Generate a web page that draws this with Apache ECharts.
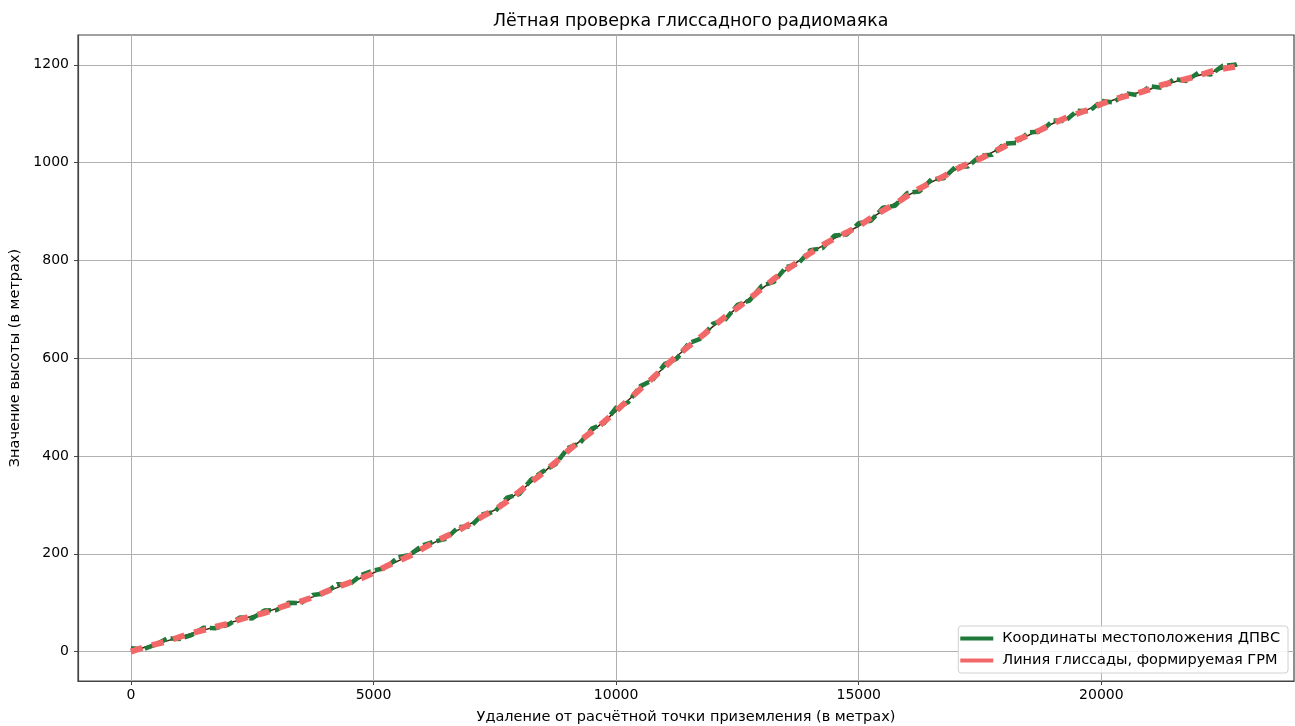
<!DOCTYPE html>
<html>
<head>
<meta charset="utf-8">
<script src="https://cdn.jsdelivr.net/npm/echarts@6/dist/echarts.min.js"></script>
<style>html,body{margin:0;padding:0;background:#fff}#c{width:1295px;height:726px}</style>
</head>
<body>
<div id="c"></div>
<script>
const distances = [0,250,500,750,1000,1250,1500,1750,2000,2250,2500,2750,3000,3250,3500,3750,4000,4250,4500,4750,5000,5250,5500,5750,6000,6250,6500,6750,7000,7250,7500,7750,8000,8250,8500,8750,9000,9250,9500,9750,10000,10250,10500,10750,11000,11250,11500,11750,12000,12250,12500,12750,13000,13250,13500,13750,14000,14250,14500,14750,15000,15250,15500,15750,16000,16250,16500,16750,17000,17250,17500,17750,18000,18250,18500,18750,19000,19250,19500,19750,20000,20250,20500,20750,21000,21250,21500,21750,22000,22250,22500,22750,22800];
const aircraftHeights = [7,5,14,27,26,34,49,48,55,70,68,84,85,100,99,116,119,138,137,157,166,171,193,198,217,225,231,255,256,281,286,315,322,352,369,383,416,426,456,467,499,510,543,555,588,599,631,640,671,679,709,718,748,756,786,793,821,825,851,853,876,881,908,912,938,941,966,968,992,992,1014,1016,1039,1040,1062,1063,1086,1085,1106,1105,1126,1123,1142,1138,1156,1153,1171,1167,1184,1180,1198,1200,1202];
const glidePathHeights = [0,8,15,21,30,38,44,51,57,66,73,79,88,96,103,111,122,132,141,150,161,174,185,196,210,224,236,248,262,277,290,307,327,347,366,387,410,431,450,470,492,515,537,559,582,605,625,644,665,685,703,722,742,762,780,797,815,831,845,857,870,887,902,916,932,947,960,972,986,998,1008,1020,1033,1046,1056,1067,1080,1091,1100,1109,1120,1129,1136,1142,1150,1159,1165,1171,1178,1186,1192,1196,1197];
const referenceHeights = [0,8,15,22,30,37,44,51,58,65,73,80,88,95,103,112,122,131,141,151,161,173,185,197,210,223,236,249,262,276,290,308,327,346,366,388,410,430,450,471,492,514,537,560,582,604,625,645,665,684,703,723,742,761,780,798,815,830,845,858,870,886,902,917,932,946,960,973,986,997,1008,1021,1033,1045,1056,1068,1080,1090,1100,1110,1120,1128,1136,1143,1150,1158,1165,1172,1178,1185,1192,1197,1198];
const xTicks = [0,5000,10000,15000,20000];
const yTicks = [0,200,400,600,800,1000,1200];
const titleText = 'Лётная проверка глиссадного радиомаяка';
const xName = 'Удаление от расчётной точки приземления (в метрах)';
const yName = 'Значение высоты (в метрах)';
const seriesNames = ['Координаты местоположения ДПВС', 'Линия глиссады, формируемая ГРМ'];

const pairs = (xs, ys) => xs.map((x, i) => [x, ys[i]]);
const font = 'DejaVu Sans';

const chart = echarts.init(document.getElementById('c'), null, {renderer: 'canvas'});
chart.setOption({
  animation: false,
  backgroundColor: '#ffffff',
  textStyle: {fontFamily: font},
  title: {
    text: titleText, left: 488, top: 8,
    textStyle: {fontFamily: font, fontSize: 17.4, fontWeight: 'normal', color: '#000'}
  },
  grid: {left: 78, top: 35, right: 1, bottom: 45, show: true, borderColor: '#444', borderWidth: 1.2, containLabel: false, outerBoundsMode: 'none'},
  legend: {
    orient: 'vertical', right: 7, bottom: 53,
    itemWidth: 33, itemHeight: 4, itemGap: 7,
    padding: [5, 8, 5, 2],
    borderColor: '#d0d0d0', borderWidth: 1, borderRadius: 3,
    backgroundColor: 'rgba(255,255,255,0.85)',
    textStyle: {fontFamily: font, fontSize: 14.5, color: '#000', padding: [0, 0, 0, 4]},
    data: [
      {name: seriesNames[0], icon: 'rect', itemStyle: {color: '#1f7a3a'}},
      {name: seriesNames[1], icon: 'rect', itemStyle: {color: '#f26868'}}
    ]
  },
  xAxis: {
    type: 'value', min: -1090, max: 23970,
    name: xName, nameLocation: 'middle', nameGap: 29,
    nameTextStyle: {fontFamily: font, fontSize: 14.5, color: '#000'},
    axisLine: {show: true, onZero: false, lineStyle: {color: '#444', width: 1.2}},
    axisTick: {show: true, length: 4, customValues: xTicks, lineStyle: {color: '#444'}},
    axisLabel: {customValues: xTicks, margin: 7, fontFamily: font, fontSize: 14, color: '#000', formatter: v => String(v)},
    splitLine: {show: true, lineStyle: {color: '#b0b0b0', width: 1}}
  },
  yAxis: {
    type: 'value', min: -60, max: 1261,
    name: yName, nameLocation: 'middle', nameGap: 55,
    nameTextStyle: {fontFamily: font, fontSize: 14.5, color: '#000'},
    axisLine: {show: true, onZero: false, lineStyle: {color: '#444', width: 1.2}},
    axisTick: {show: true, length: 4, customValues: yTicks, lineStyle: {color: '#444'}},
    axisLabel: {customValues: yTicks, margin: 9, fontFamily: font, fontSize: 14, color: '#000', formatter: v => String(v)},
    splitLine: {show: true, lineStyle: {color: '#b0b0b0', width: 1}}
  },
  series: [
    {
      name: 'reference', type: 'line', data: pairs(distances, referenceHeights),
      showSymbol: false, symbol: 'none', z: 1, silent: true,
      lineStyle: {color: '#4a1e08', width: 1.5}
    },
    {
      name: seriesNames[0], type: 'line', data: pairs(distances, aircraftHeights),
      showSymbol: false, symbol: 'none', z: 2,
      itemStyle: {color: '#1f7a3a'},
      lineStyle: {color: '#1f7a3a', width: 4.5, type: [10, 4], cap: 'butt'}
    },
    {
      name: seriesNames[1], type: 'line', data: pairs(distances, glidePathHeights),
      showSymbol: false, symbol: 'none', z: 3,
      itemStyle: {color: '#f26868'},
      lineStyle: {color: '#f26868', width: 6, type: [12, 10], cap: 'butt'}
    }
  ]
});
</script>
</body>
</html>
